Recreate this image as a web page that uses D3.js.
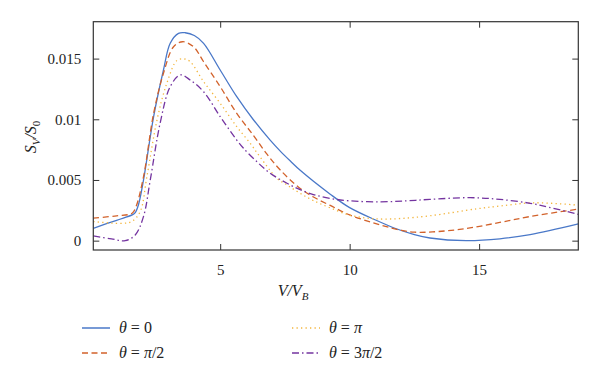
<!DOCTYPE html>
<html><head><meta charset="utf-8">
<script src="https://cdn.jsdelivr.net/npm/d3@7"></script>
<style>body{margin:0;background:#fff}svg{display:block}text{font-family:"Liberation Serif","DejaVu Serif","Noto Serif","Times New Roman",Times,serif;fill:#222}</style>
</head><body><svg id="c" width="600" height="381"></svg>
<script>
// ---- data ----
const xTicks = [5, 10, 15];
const yTicks = [0, 0.005, 0.01, 0.015];
const seriesNames = ["θ = 0", "θ = π/2", "θ = π", "θ = 3π/2"];
const vBlue   = [0.1, 1.0, 1.6, 1.72, 1.85, 2.04, 2.43, 2.81, 3.07, 3.39, 3.65, 4.0, 4.36, 5.0, 5.64, 6.29, 6.93, 7.32, 7.7, 8.09, 9.25, 10, 11.0, 11.8, 12.5, 13.1, 14.5, 15.8, 16.97, 18.83];
const sBlue   = [0.00102, 0.00168, 0.00212, 0.00231, 0.0030, 0.0050, 0.01022, 0.01406, 0.01626, 0.01708, 0.01713, 0.01690, 0.01626, 0.01406, 0.01186, 0.00994, 0.00828, 0.00738, 0.00658, 0.0058, 0.00383, 0.00272, 0.0017, 0.00098, 0.0005, 0.00022, 0.0, 0.00015, 0.0005, 0.00138];
const vOrange = [0.1, 1.0, 1.6, 1.75, 2.04, 2.43, 2.81, 3.2, 3.55, 3.97, 4.36, 5.0, 5.64, 6.29, 6.8, 7.32, 8.09, 8.6, 9.25, 10, 11.2, 12.0, 12.5, 13.2, 14.5, 15.8, 17.0, 18.83];
const sOrange = [0.00185, 0.00205, 0.00226, 0.0028, 0.00527, 0.01049, 0.01379, 0.01598, 0.01639, 0.01598, 0.01474, 0.01269, 0.01049, 0.00865, 0.00715, 0.00582, 0.0043, 0.0036, 0.0029, 0.00212, 0.00129, 0.00085, 0.0007, 0.00072, 0.001, 0.0015, 0.002, 0.0026];
const vYellow = [0.1, 1.25, 1.6, 1.91, 2.17, 2.56, 2.94, 3.33, 3.6, 3.84, 4.36, 5.0, 5.64, 6.16, 6.54, 7.19, 7.58, 8.09, 8.6, 9.25, 10, 10.7, 11.3, 12.0, 13.1, 14.9, 15.8, 17.1, 18.83];
const sYellow = [0.00157, 0.00143, 0.0016, 0.00239, 0.00527, 0.00994, 0.01297, 0.01485, 0.01497, 0.01475, 0.0131, 0.01132, 0.00939, 0.00802, 0.0069, 0.00514, 0.00459, 0.0039, 0.0033, 0.0027, 0.0021, 0.00185, 0.00178, 0.00183, 0.00205, 0.00262, 0.00285, 0.00312, 0.00292];
const vPurple = [0.1, 0.8, 1.33, 1.72, 2.04, 2.30, 2.68, 3.07, 3.46, 3.84, 4.36, 5.0, 5.64, 5.9, 6.42, 6.93, 7.58, 8.09, 8.6, 9.25, 10, 11.2, 12.2, 13.1, 14.65, 15.8, 16.97, 17.7, 18.83];
const sPurple = [0.00039, 0.00015, 0.0, 0.00047, 0.0020, 0.0050, 0.00967, 0.01269, 0.01365, 0.01324, 0.01227, 0.01022, 0.00829, 0.00761, 0.0065, 0.00555, 0.00473, 0.0042, 0.0038, 0.00348, 0.00328, 0.0032, 0.00328, 0.0034, 0.00354, 0.0034, 0.00308, 0.00275, 0.00217];

const series = [
  {name: seriesNames[0], v: vBlue, s: sBlue, color: "#4a78c8", dash: null},
  {name: seriesNames[1], v: vOrange, s: sOrange, color: "#d2622b", dash: "6,3.5"},
  {name: seriesNames[2], v: vYellow, s: sYellow, color: "#f3b63e", dash: "1.3,3.2"},
  {name: seriesNames[3], v: vPurple, s: sPurple, color: "#7434a0", dash: "7,3,1.5,3"}
];

const L = 93.3, R = 578.3, T = 21.7, B = 250;
const x = d3.scaleLinear().domain([0.1, 18.83]).range([L, R]);
const y = d3.scaleLinear().domain([-0.00077, 0.01804]).range([B, T]);
const svg = d3.select("#c");
const FF = "'Liberation Serif','DejaVu Serif','Noto Serif','Times New Roman',Times,serif";

svg.append("clipPath").attr("id","cp").append("rect")
  .attr("x", L).attr("y", T).attr("width", R-L).attr("height", B-T);

const line = d3.line().x(d => x(d[0])).y(d => y(d[1])).curve(d3.curveCatmullRom.alpha(0.5));
const g = svg.append("g").attr("clip-path","url(#cp)");
series.forEach(sr => {
  const pts = sr.v.map((v,i) => [v, sr.s[i]]);
  g.append("path").attr("d", line(pts)).attr("fill","none")
    .attr("stroke", sr.color).attr("stroke-width", 1.3)
    .attr("stroke-dasharray", sr.dash);
});

// axes
const fmt = d => d === 0 ? "0" : String(+d.toFixed(3));
const ax = svg.append("g");
ax.append("g").attr("transform", `translate(0,${B})`)
  .call(d3.axisBottom(x).tickValues(xTicks).tickSizeInner(-6).tickSizeOuter(0).tickPadding(14));
ax.append("g").attr("transform", `translate(0,${T})`)
  .call(d3.axisTop(x).tickValues(xTicks).tickSizeInner(-6).tickSizeOuter(0).tickFormat(""));
ax.append("g").attr("transform", `translate(${L},0)`)
  .call(d3.axisLeft(y).tickValues(yTicks).tickSizeInner(-6).tickSizeOuter(0).tickPadding(12).tickFormat(fmt));
ax.append("g").attr("transform", `translate(${R},0)`)
  .call(d3.axisRight(y).tickValues(yTicks).tickSizeInner(-6).tickSizeOuter(0).tickFormat(""));
ax.selectAll(".domain").remove();
ax.selectAll("g").attr("font-family", FF).attr("font-size", 15);
ax.selectAll("line").attr("stroke","#333").attr("stroke-width",1);
ax.selectAll("text").attr("fill","#222");
svg.append("rect").attr("x",L).attr("y",T).attr("width",R-L).attr("height",B-T)
  .attr("fill","none").attr("stroke","#333").attr("stroke-width",1.2);

// axis titles
const xl = svg.append("text").attr("x", 293).attr("y", 296).attr("text-anchor","middle")
  .attr("font-size",16).attr("font-style","italic");
xl.append("tspan").text("V/V");
xl.append("tspan").attr("font-size",11).attr("dy",4).text("B");

const ylab = svg.append("text").attr("transform","translate(36,137) rotate(-90)")
  .attr("text-anchor","middle").attr("font-size",16).attr("font-style","italic");
ylab.append("tspan").text("S");
ylab.append("tspan").attr("font-size",11).attr("dy",4).text("V");
ylab.append("tspan").attr("dy",-4).text("/S");
ylab.append("tspan").attr("font-size",11).attr("dy",4).attr("font-style","normal").text("0");

// legend
const legPos = [[82,328],[82,353],[292,328],[292,353]];
series.forEach((sr,i) => {
  const [lx, ly] = legPos[i];
  svg.append("line").attr("x1",lx).attr("x2",lx+28).attr("y1",ly).attr("y2",ly)
    .attr("stroke",sr.color).attr("stroke-width",1.5).attr("stroke-dasharray",sr.dash);
  const t = svg.append("text").attr("x", lx+37).attr("y", ly+5).attr("font-size",16);
  const parts = sr.name.split(" = ");
  t.append("tspan").attr("font-style","italic").text("θ");
  t.append("tspan").text(" = ");
  const rhs = parts[1];
  if (rhs.includes("π")) {
    const k = rhs.indexOf("π");
    t.append("tspan").text(rhs.slice(0,k));
    t.append("tspan").attr("font-style","italic").text("π");
    t.append("tspan").text(rhs.slice(k+1));
  } else t.append("tspan").text(rhs);
});
</script></body></html>
